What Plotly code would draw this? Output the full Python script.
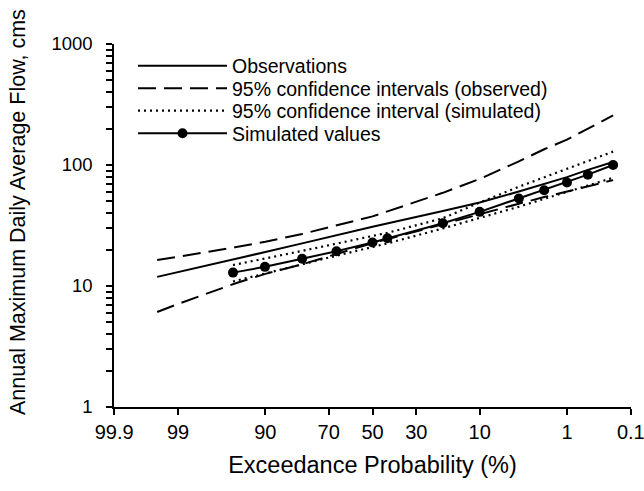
import plotly.graph_objects as go
from statistics import NormalDist

nd = NormalDist()


def zpos(probs):
    # normal-probability (exceedance) axis position
    return [nd.inv_cdf(1 - p / 100.0) for p in probs]


tick_probs = [99.9, 99, 90, 70, 50, 30, 10, 1, 0.1]
tick_labels = ["99.9", "99", "90", "70", "50", "30", "10", "1", "0.1"]

obs_prob = [99.5, 99, 95, 90, 80, 50, 20, 10, 4, 2, 1, 0.5, 0.2]
obs_flow = [11.9, 13.0, 16.7, 19.1, 22.5, 30.9, 41.7, 49.0, 60.3, 69.2, 79.4, 91.2, 106]
obs_ci_upper = [16.4, 17.4, 20.9, 23.2, 26.9, 37.6, 58.9, 76.7, 107, 135, 162, 200, 257]
obs_ci_lower = [6.1, 7.1, 10.5, 12.6, 15.1, 22.6, 32.4, 39.4, 47.9, 54.3, 60.3, 66.8, 75.0]

sim_prob = [95.24, 90.09, 80, 66.67, 50, 42.92, 20, 10, 4, 2, 1, 0.5, 0.2]
sim_flow = [12.9, 14.4, 16.8, 19.4, 22.9, 24.8, 33.0, 41.0, 52.9, 61.8, 71.7, 83.2, 100]
sim_ci_upper = [14.9, 16.8, 19.5, 22.4, 25.7, 27.5, 36.3, 49.0, 66.1, 79.4, 93.3, 108, 129]
sim_ci_lower = [10.9, 12.6, 15.1, 17.8, 21.0, 22.5, 29.9, 36.3, 45.2, 52.5, 60.3, 67.6, 78.5]

y_major = [1, 10, 100, 1000]
y_major_labels = ["1", "10", "100", "1000"]
y_minor = [m * d for d in (1, 10, 100) for m in range(2, 10)]

FONT = "Liberation Sans, Arial, Helvetica, sans-serif"
BLACK = "#000000"
DASH = "18px,8px"
DOT = "2px,4px"

fig = go.Figure()

xo = zpos(obs_prob)
xs = zpos(sim_prob)

fig.add_trace(go.Scatter(x=xo, y=obs_flow, mode="lines", name="Observations",
                         legend="legend", line=dict(color=BLACK, width=2)))
fig.add_trace(go.Scatter(x=xo, y=obs_ci_upper, mode="lines",
                         name="95% confidence intervals (observed)", legend="legend2",
                         line=dict(color=BLACK, width=2, dash=DASH)))
fig.add_trace(go.Scatter(x=xo, y=obs_ci_lower, mode="lines", showlegend=False,
                         legend="legend2", line=dict(color=BLACK, width=2, dash=DASH)))
fig.add_trace(go.Scatter(x=xs, y=sim_ci_upper, mode="lines",
                         name="95% confidence interval (simulated)", legend="legend3",
                         line=dict(color=BLACK, width=2.2, dash=DOT)))
fig.add_trace(go.Scatter(x=xs, y=sim_ci_lower, mode="lines", showlegend=False,
                         legend="legend3", line=dict(color=BLACK, width=2.2, dash=DOT)))
fig.add_trace(go.Scatter(x=xs, y=sim_flow, mode="lines+markers", name="Simulated values",
                         legend="legend4", line=dict(color=BLACK, width=2),
                         marker=dict(color=BLACK, size=10, symbol="circle")))

zmax = nd.inv_cdf(0.999) + 0.002

# plot area: left 114, top 44, width 517, height 363 (pixels)
PL, PT, PW, PH = 114, 44, 517, 363


def leg(row_center_px):
    return dict(x=(133 - PL) / PW, y=1 - (row_center_px - PT) / PH,
                xanchor="left", yanchor="middle",
                bgcolor="rgba(0,0,0,0)", borderwidth=0,
                font=dict(size=19.5, family=FONT, color=BLACK),
                itemwidth=89)


fig.update_layout(
    width=644, height=491,
    margin=dict(l=PL, r=644 - PL - PW, t=PT, b=491 - PT - PH, autoexpand=False),
    paper_bgcolor="white", plot_bgcolor="white",
    font=dict(family=FONT, color=BLACK, size=19),
    showlegend=True,
    legend=leg(66), legend2=leg(88.5), legend3=leg(111), legend4=leg(133.5),
    xaxis=dict(range=[-zmax, zmax], tickmode="array",
               tickvals=zpos(tick_probs), ticktext=tick_labels,
               showline=True, linecolor=BLACK, linewidth=1.5,
               ticks="outside", ticklen=6, tickwidth=2, tickcolor=BLACK,
               ticklabeloverflow="allow", automargin=False,
               showgrid=False, zeroline=False,
               tickfont=dict(size=20, family=FONT),
               title=dict(text="Exceedance Probability (%)",
                          font=dict(size=23.5, family=FONT))),
    yaxis=dict(type="log", range=[0, 3], tickmode="array",
               tickvals=y_major, ticktext=y_major_labels,
               showline=True, linecolor=BLACK, linewidth=1.5,
               ticks="outside", ticklen=6, tickwidth=1.5, tickcolor=BLACK,
               ticklabelstandoff=10, automargin=False,
               showgrid=False, zeroline=False,
               tickfont=dict(size=18.5, family=FONT),
               minor=dict(tickmode="array", tickvals=y_minor, ticks="outside",
                          ticklen=6, tickwidth=1.5, tickcolor=BLACK, showgrid=False)),
    annotations=[dict(text="Annual Maximum Daily Average Flow, cms",
                      xref="paper", yref="paper",
                      x=(18 - PL) / PW, y=1 - (212 - PT) / PH,
                      xanchor="center", yanchor="middle", textangle=-90,
                      showarrow=False, font=dict(size=21.5, family=FONT, color=BLACK))],
)

fig.write_html("out.html")
